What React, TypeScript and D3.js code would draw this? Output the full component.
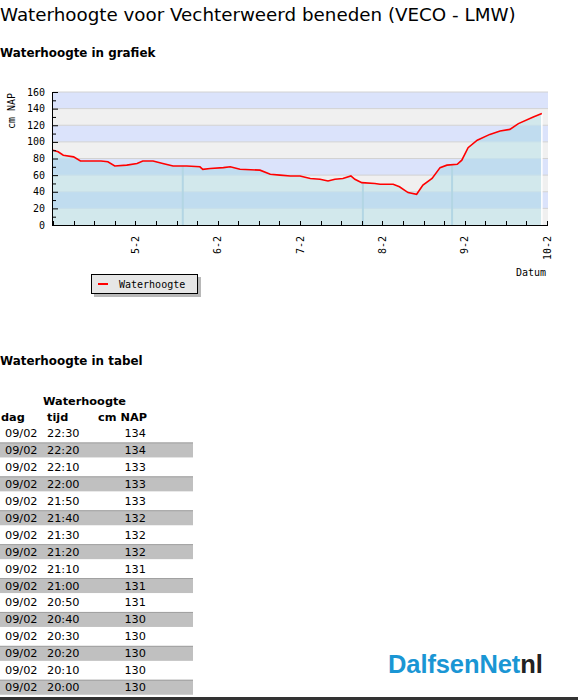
import React from "react";
import * as d3 from "d3";

// ---- chart data ----
const times: string[] = [
  "2024-02-04T00:00", "2024-02-04T01:30", "2024-02-04T03:00", "2024-02-04T06:00", "2024-02-04T08:00",
  "2024-02-04T14:00", "2024-02-04T16:00", "2024-02-04T18:00", "2024-02-04T21:30", "2024-02-05T00:30",
  "2024-02-05T02:10", "2024-02-05T05:10", "2024-02-05T08:00", "2024-02-05T11:00", "2024-02-05T15:00",
  "2024-02-05T18:50", "2024-02-05T19:40", "2024-02-05T21:50", "2024-02-06T01:40", "2024-02-06T03:40",
  "2024-02-06T06:30", "2024-02-06T12:20", "2024-02-06T15:20", "2024-02-06T18:10", "2024-02-06T21:10",
  "2024-02-07T00:00", "2024-02-07T03:00", "2024-02-07T05:50", "2024-02-07T08:10", "2024-02-07T10:10",
  "2024-02-07T12:30", "2024-02-07T14:50", "2024-02-07T16:00", "2024-02-07T18:00", "2024-02-07T21:50",
  "2024-02-07T23:20", "2024-02-08T03:10", "2024-02-08T05:00", "2024-02-08T07:30", "2024-02-08T10:00",
  "2024-02-08T11:50", "2024-02-08T14:30", "2024-02-08T16:50", "2024-02-08T18:50", "2024-02-08T21:50",
  "2024-02-08T23:10", "2024-02-09T01:00", "2024-02-09T03:40", "2024-02-09T07:20", "2024-02-09T10:20",
  "2024-02-09T13:10", "2024-02-09T15:40", "2024-02-09T20:00", "2024-02-09T22:30",
];
const levels: number[] = [
  90, 88, 84, 82, 77,
  77, 76, 71, 72, 74,
  77, 77, 74, 71, 71,
  70, 67, 68, 69, 70,
  67, 66, 61, 60, 59,
  59, 56, 55, 53, 55,
  56, 59, 55, 51, 50,
  49, 49, 46, 39, 37,
  48, 56, 69, 72, 73,
  78, 93, 102, 109, 113,
  115, 122, 130, 134,
];
const markerTimes: string[] = ["2024-02-05T13:50", "2024-02-07T18:20", "2024-02-08T20:20"];
const dayTicks: string[] = ["2024-02-05", "2024-02-06", "2024-02-07", "2024-02-08", "2024-02-09", "2024-02-10"];
const dayLabels: string[] = ["5-2", "6-2", "7-2", "8-2", "9-2", "10-2"];
const yTicks: number[] = [0, 20, 40, 60, 80, 100, 120, 140, 160];

const tableDays: string[] = Array(16).fill("09/02");
const tableTimes: string[] = [
  "22:30", "22:20", "22:10", "22:00", "21:50", "21:40", "21:30", "21:20",
  "21:10", "21:00", "20:50", "20:40", "20:30", "20:20", "20:10", "20:00",
];
const tableValues: number[] = [134, 134, 133, 133, 133, 132, 132, 132, 131, 131, 131, 130, 130, 130, 130, 130];

const parse = (s: string) => new Date(s);

export default function App() {
  const W = 578, H = 700;
  const x = d3.scaleTime()
    .domain([parse("2024-02-04T00:00"), parse("2024-02-10T00:00")])
    .range([53, 547]);
  const y = d3.scaleLinear().domain([0, 160]).range([225, 92]);
  const data = times.map((t, i) => ({ t: parse(t), v: levels[i] }));
  const line = d3.line<{ t: Date; v: number }>().x(d => x(d.t)).y(d => y(d.v));
  const area = d3.area<{ t: Date; v: number }>().x(d => x(d.t)).y0(y(0)).y1(d => y(d.v));
  const [x0, x1] = x.range();
  const bands = d3.range(0, 160, 20);
  const minorX = x.ticks(d3.timeHour.every(6)!);
  const minorY = d3.range(0, 161, 10);
  const mono = "'DejaVu Sans Mono', monospace";
  const sans = "'DejaVu Sans', Verdana, sans-serif";
  const lastT = data[data.length - 1].t;

  const rowY = (i: number) => 433 + i * 16.95;

  return (
    <div style={{ position: "absolute", left: 0, top: 0 }}>
      <svg width={W} height={H} style={{ display: "block", background: "#fff" }}>
        <defs>
          <clipPath id="areaClip">
            <path d={area(data) || ""} />
          </clipPath>
        </defs>
        <text x={0} y={21} fontFamily={sans} fontSize={18.3} fill="#000">
          Waterhoogte voor Vechterweerd beneden (VECO - LMW)
        </text>
        <text x={0} y={57} fontFamily={sans} fontSize={11.9} fontWeight="bold" fill="#000">
          Waterhoogte in grafiek
        </text>

        {/* plot bands */}
        {bands.map(b => (
          <rect key={"b" + b} x={x0} y={y(b + 20)} width={x1 - x0 + 1} height={y(b) - y(b + 20)}
            fill={(b / 20) % 2 === 1 ? "#dbe3fb" : "#f0f0f0"} />
        ))}
        {yTicks.slice(1).map(v => (
          <line key={"g" + v} x1={x0} x2={x1 + 1} y1={y(v)} y2={y(v)} stroke="#d2d2d2" strokeWidth={1} />
        ))}
        {/* area: bands in area colours */}
        <g clipPath="url(#areaClip)">
          {bands.map(b => (
            <rect key={"ab" + b} x={x0} y={y(b + 20)} width={x1 - x0} height={y(b) - y(b + 20)}
              fill={(b / 20) % 2 === 1 ? "#c0dcef" : "#d2e8ec"} />
          ))}
          {yTicks.slice(1).map(v => (
            <line key={"ag" + v} x1={x0} x2={x1} y1={y(v)} y2={y(v)} stroke="#c8e0ea" strokeWidth={1} />
          ))}
          {markerTimes.map(t => (
            <line key={"m" + t} x1={x(parse(t))} x2={x(parse(t))} y1={y(160)} y2={y(0)} stroke="#b3d6e4" strokeWidth={2} />
          ))}
        </g>
        <line x1={x(lastT)} x2={x(lastT)} y1={y(levels[levels.length - 1])} y2={y(0)} stroke="#ffffff" strokeWidth={1.5} />
        <path d={line(data) || ""} fill="none" stroke="#ff0000" strokeWidth={1.6} />

        {/* axes */}
        <line x1={x0 - 0.5} x2={x0 - 0.5} y1={y(160)} y2={y(0)} stroke="#000" strokeWidth={1} />
        <line x1={x0 - 1} x2={x1 + 1} y1={y(0) + 0.5} y2={y(0) + 0.5} stroke="#000" strokeWidth={1} />
        {minorY.map(v => (
          <line key={"ty" + v} x1={x0} x2={x0 + (v % 20 === 0 ? 5 : 3)} y1={y(v) + 0.5} y2={y(v) + 0.5} stroke="#000" />
        ))}
        {yTicks.map(v => (
          <text key={"yl" + v} x={45} y={y(v)} dy="0.35em" textAnchor="end" fontFamily={mono} fontSize={10} fill="#000">{v}</text>
        ))}
        {minorX.map(t => (
          <line key={"tx" + t.getTime()} x1={Math.round(x(t)) + 0.5} x2={Math.round(x(t)) + 0.5} y1={y(0)} y2={y(0) - 4} stroke="#000" />
        ))}
        {dayTicks.map((t, i) => (
          <text key={"xl" + t} transform={`translate(${x(parse(t + "T00:00"))},236) rotate(-90)`} dy="0.35em"
            textAnchor="end" fontFamily={mono} fontSize={10} fill="#000">{dayLabels[i]}</text>
        ))}
        <text transform="translate(11,111) rotate(-90)" dy="0.35em" textAnchor="middle" fontFamily={mono} fontSize={10} fill="#000">cm NAP</text>
        <text x={546} y={272} dy="0.35em" textAnchor="end" fontFamily={mono} fontSize={10} fill="#000">Datum</text>

        {/* legend */}
        <rect x={94} y={277} width={107} height={20} fill="#b8b8b8" />
        <rect x={91.5} y={274.5} width={106} height={19} fill="#e6e6e6" stroke="#000" strokeWidth={1} />
        <line x1={98} x2={108} y1={284} y2={284} stroke="#ff0000" strokeWidth={2} />
        <text x={119} y={284} dy="0.35em" fontFamily={mono} fontSize={10} fill="#000">Waterhoogte</text>

        {/* table */}
        <text x={0} y={365} fontFamily={sans} fontSize={11.9} fontWeight="bold" fill="#000">Waterhoogte in tabel</text>
        <text x={43} y={401} dy="0.35em" fontFamily={sans} fontSize={11.3} fontWeight="bold" fill="#000">Waterhoogte</text>
        <text x={1} y={417} dy="0.35em" fontFamily={sans} fontSize={11.3} fontWeight="bold" fill="#000">dag</text>
        <text x={47} y={417} dy="0.35em" fontFamily={sans} fontSize={11.3} fontWeight="bold" fill="#000">tijd</text>
        <text x={147} y={417} dy="0.35em" textAnchor="end" fontFamily={sans} fontSize={11.3} fontWeight="bold" fill="#000">cm NAP</text>
        {tableTimes.map((t, i) => (
          <g key={"r" + i}>
            {i % 2 === 1 && (
              <>
                <rect x={0} y={rowY(i) - 7.5} width={193} height={15} fill="#c0c0c0" />
                <line x1={0} x2={193} y1={rowY(i) - 7} y2={rowY(i) - 7} stroke="#a0a0a0" strokeWidth={1} />
              </>
            )}
            <text x={5} y={rowY(i)} dy="0.35em" fontFamily={sans} fontSize={11.3} fill="#000">{tableDays[i]}</text>
            <text x={47} y={rowY(i)} dy="0.35em" fontFamily={sans} fontSize={11.3} fill="#000">{t}</text>
            <text x={146} y={rowY(i)} dy="0.35em" textAnchor="end" fontFamily={sans} fontSize={11.3} fill="#000">{tableValues[i]}</text>
          </g>
        ))}

        {/* logo */}
        <text x={388} y={673} fontFamily="'Liberation Sans', Arial, sans-serif" fontSize={25.5} fontWeight="bold" letterSpacing={-0.1}>
          <tspan fill="#1a96d4">DalfsenNet</tspan>
          <tspan fill="#222">nl</tspan>
        </text>
        <rect x={0} y={697} width={W} height={3} fill="#333" />
      </svg>
    </div>
  );
}
